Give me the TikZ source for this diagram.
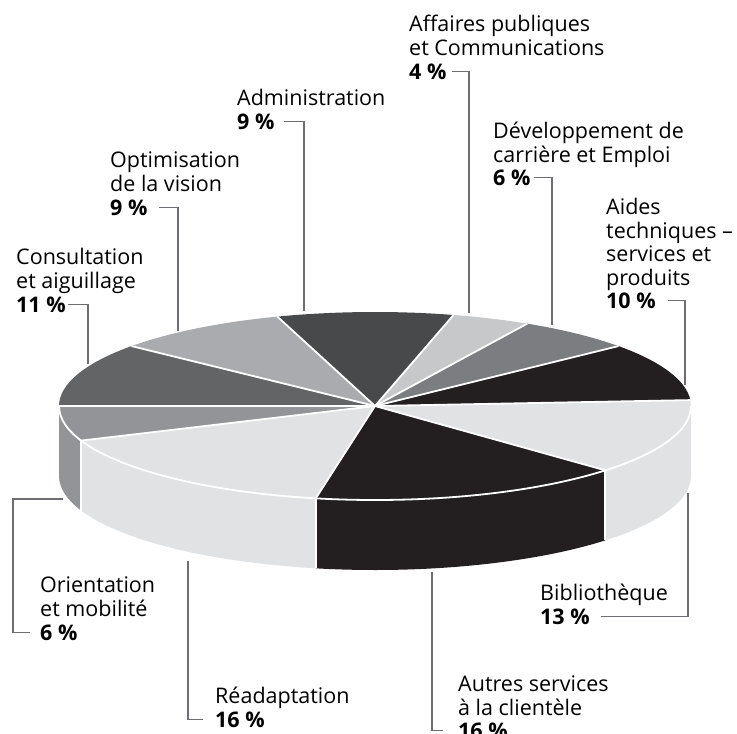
\documentclass[tikz,border=0pt]{standalone}
\usepackage{fontspec}
\setmainfont{Open Sans}
\usetikzlibrary{calc}

\definecolor{cAdm}{HTML}{48494B}
\definecolor{cAff}{HTML}{C7C8CA}
\definecolor{cDev}{HTML}{7C7D80}
\definecolor{cAid}{HTML}{231F20}
\definecolor{cBib}{HTML}{E1E2E3}
\definecolor{cAut}{HTML}{231F20}
\definecolor{cRea}{HTML}{E1E2E3}
\definecolor{cOri}{HTML}{929497}
\definecolor{cCon}{HTML}{636466}
\definecolor{cOpt}{HTML}{A9ABAE}
\definecolor{lead}{HTML}{6D6E71}

\tikzset{
  lbl/.style={anchor=base west, align=left, inner sep=0pt, font=\fontsize{21.5}{23.5}\selectfont},
  pct/.style={lbl, font=\fontsize{21.5}{23.5}\selectfont\bfseries},
  leader/.style={draw=lead, line width=1.1pt},
  seam/.style={draw=white, line width=1.8pt},
  rim/.style={x radius=316pt, y radius=94pt},
}

\begin{document}
\begin{tikzpicture}[x=1pt,y=1pt]
\useasboundingbox (0,0) rectangle (737,-734);
\coordinate (O) at (375,-406);

% side walls
\foreach \a/\b/\c in {-43.2/0/cBib, -100.8/-43.2/cAut, -158.4/-100.8/cRea, -180/-158.4/cOri}{
  \fill[\c] ($(O)+(\a:316pt and 94pt)$) arc[rim, start angle=\a, end angle=\b]
    -- ++(0,-70) arc[rim, start angle=\b, end angle=\a] -- cycle;
}

% top face
\foreach \a/\b/\c in {75.6/108/cAdm, 61.2/75.6/cAff, 39.6/61.2/cDev, 3.6/39.6/cAid, -43.2/3.6/cBib,
    -100.8/-43.2/cAut, -158.4/-100.8/cRea, -180/-158.4/cOri, 140.4/180/cCon, 108/140.4/cOpt}{
  \fill[\c] (O) -- ($(O)+(\a:316pt and 94pt)$) arc[rim, start angle=\a, end angle=\b] -- cycle;
}

% white seams
\draw[seam] ($(O)+(-180:316pt and 94pt)$) arc[rim, start angle=-180, end angle=0];
\foreach \a in {108,75.6,61.2,39.6,3.6,-43.2,-100.8,-158.4,180,140.4}
  \draw[seam] (O) -- ($(O)+(\a:316pt and 94pt)$);
\foreach \a in {-43.2,-100.8,-158.4}
  \draw[seam] ($(O)+(\a:316pt and 94pt)$) -- ++(0,-70);

% labels (base = baseline of the last line)
\node[lbl] (aff) at (409,-55) {Affaires publiques\\et Communications};
\node[pct] (aff-p) at (409,-79) {4~\%};
\node[lbl] (adm) at (237,-105) {Administration};
\node[pct] (adm-p) at (237,-129) {9~\%};
\node[lbl] (dev) at (493,-162) {Développement de\\carrière et Emploi};
\node[pct] (dev-p) at (493,-185) {6~\%};
\node[lbl] (opt) at (110,-191) {Optimisation\\de la vision};
\node[pct] (opt-p) at (110,-215) {9~\%};
\node[lbl] (aid) at (606,-285) {Aides\\techniques –\\services et\\produits};
\node[pct] (aid-p) at (606,-308) {10~\%};
\node[lbl] (con) at (16,-288) {Consultation\\et aiguillage};
\node[pct] (con-p) at (16,-312) {11~\%};
\node[lbl] (ori) at (40,-616) {Orientation\\et mobilité};
\node[pct] (ori-p) at (40,-640) {6~\%};
\node[lbl] (bib) at (540,-600) {Bibliothèque};
\node[pct] (bib-p) at (540,-624) {13~\%};
\node[lbl] (rea) at (215,-703) {Réadaptation};
\node[pct] (rea-p) at (215,-727) {16~\%};
\node[lbl] (aut) at (458,-715) {Autres services\\à la clientèle};
\node[pct] (aut-p) at (458,-738) {16~\%};

% leader ends on the pie
\coordinate (aff-e) at (469,-313);
\coordinate (adm-e) at (304,-311);
\coordinate (dev-e) at (552,-325);
\coordinate (opt-e) at (178,-331);
\coordinate (aid-e) at (685,-385);
\coordinate (con-e) at (88,-364);
\coordinate (ori-e) at (63,-499);
\coordinate (bib-e) at (688,-493);
\coordinate (rea-e) at (188,-561);
\coordinate (aut-e) at (432,-572);

% leaders
\draw[leader] ([xshift=5pt]aff-p.east) -| (aff-e);
\draw[leader] ([xshift=9pt]adm-p.east) -| (adm-e);
\draw[leader] ([xshift=3pt]dev-p.east) -| (dev-e);
\draw[leader] ([xshift=11pt]opt-p.east) -| (opt-e);
\draw[leader] ([xshift=12pt]aid-p.east) -| (aid-e);
\draw[leader] ([xshift=2pt]con-p.east) -| (con-e);
\draw[leader] (ori-e) -| ($(ori-p.west)+(-27,0)$) -- ([xshift=-10pt]ori-p.west);
\draw[leader] (bib-e) |- ([xshift=11pt]bib-p.east);
\draw[leader] (rea-e) |- ([xshift=-12pt]rea-p.west);
\draw[leader] (aut-e) |- ([xshift=-15pt]aut-p.west);
\end{tikzpicture}
\end{document}
